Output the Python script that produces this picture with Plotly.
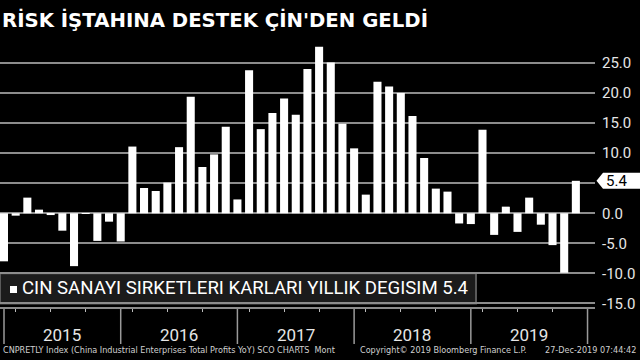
import plotly.graph_objects as go

# ---- data ----
months = [
    "Dec 2014",
    "Mar 2015", "Apr 2015", "May 2015", "Jun 2015", "Jul 2015", "Aug 2015", "Sep 2015", "Oct 2015", "Nov 2015", "Dec 2015",
    "Mar 2016", "Apr 2016", "May 2016", "Jun 2016", "Jul 2016", "Aug 2016", "Sep 2016", "Oct 2016", "Nov 2016", "Dec 2016",
    "Mar 2017", "Apr 2017", "May 2017", "Jun 2017", "Jul 2017", "Aug 2017", "Sep 2017", "Oct 2017", "Nov 2017", "Dec 2017",
    "Mar 2018", "Apr 2018", "May 2018", "Jun 2018", "Jul 2018", "Aug 2018", "Sep 2018", "Oct 2018", "Nov 2018", "Dec 2018",
    "Mar 2019", "Apr 2019", "May 2019", "Jun 2019", "Jul 2019", "Aug 2019", "Sep 2019", "Oct 2019", "Nov 2019",
]
profits_yoy = [
    -8.0,
    -0.4, 2.6, 0.6, -0.3, -2.9, -8.8, -0.1, -4.6, -1.4, -4.7,
    11.1, 4.2, 3.7, 5.1, 11.0, 19.4, 7.7, 9.8, 14.4, 2.3,
    23.8, 14.0, 16.7, 19.1, 16.4, 24.0, 27.7, 25.1, 14.9, 10.8,
    3.1, 21.9, 21.1, 20.0, 16.2, 9.2, 4.1, 3.6, -1.7, -1.8,
    13.9, -3.6, 1.1, -3.1, 2.6, -1.9, -5.3, -9.9, 5.4,
]
years = ["2015", "2016", "2017", "2018", "2019"]
y_ticks = [-15, -10, -5, 0, 5, 10, 15, 20, 25]
last_value = profits_yoy[-1]

title_text = "RİSK İŞTAHINA DESTEK ÇİN'DEN GELDİ"
legend_text = "CIN SANAYI SIRKETLERI KARLARI YILLIK DEGISIM " + f"{last_value:.1f}"
source_text = "CNPRETLY Index (China Industrial Enterprises Total Profits YoY) SCO CHARTS  Mont"
copyright_text = "Copyright© 2019 Bloomberg Finance L.P."
stamp_text = "27-Dec-2019 07:44:42"

GRID = "#8c8c8c"
TXT = "#e6e6e6"
BODY_FONT = "Liberation Sans Narrow, Roboto, Liberation Sans, sans-serif"

# ---- geometry helpers ----
W, H = 640, 360
ML, MR, MT, MB = 0, 45, 42, 53
PW = W - ML - MR
PH = H - MT - MB


def px_x(px):
    return (px - ML) / PW


def px_y(py):
    return (H - MB - py) / PH


fig = go.Figure()
fig.add_trace(go.Bar(
    x=months, y=profits_yoy,
    marker=dict(color="white", line=dict(width=0)),
    showlegend=False,
))

minor_ticks = [m for m in months if m.split()[0] in ("Mar", "Jun", "Sep")]
# the 5.0 label is hidden behind the last-value marker in the original
tick_text = ["" if abs(v - last_value) < 2.5 else f"{v:.1f}" for v in y_ticks]

fig.update_layout(
    width=W, height=H,
    margin=dict(l=ML, r=MR, t=MT, b=MB),
    paper_bgcolor="black", plot_bgcolor="black",
    bargap=0.31,
    xaxis=dict(
        type="category", range=[-0.343, 50.64],
        showgrid=False, zeroline=False,
        showline=True, linecolor=GRID, linewidth=2,
        ticks="outside", ticklen=3, tickwidth=1, tickcolor="#bbbbbb",
        tickvals=minor_ticks, showticklabels=False,
    ),
    yaxis=dict(
        side="right", range=[-15.6, 28.5],
        tickvals=y_ticks, ticktext=tick_text,
        showgrid=True, gridcolor=GRID, gridwidth=2,
        zeroline=True, zerolinecolor=GRID, zerolinewidth=2,
        ticks="", ticklabelstandoff=6,
        tickfont=dict(family=BODY_FONT, size=15, color=TXT),
    ),
    font=dict(family=BODY_FONT, color=TXT),
)

# year separators
dec_idx = [i for i, m in enumerate(months) if m.startswith("Dec")]
sep_idx = dec_idx + [len(months)]
for i in sep_idx:
    fig.add_shape(type="line", xref="x", yref="paper", x0=i, x1=i,
                  y0=px_y(309), y1=px_y(344), line=dict(color="#9a9a9a", width=1.5))
for k, yr in enumerate(years):
    mid = (sep_idx[k] + sep_idx[k + 1]) / 2
    fig.add_annotation(x=mid, xref="x", y=px_y(335), yref="paper", text=yr,
                       showarrow=False, font=dict(family=BODY_FONT, size=17, color=TXT),
                       xanchor="center", yanchor="middle")

# legend box
fig.add_shape(type="rect", xref="paper", yref="y", x0=0, x1=px_x(476), y0=-15, y1=-10,
              fillcolor="#1b1b1b", line=dict(color="#5a5a5a", width=2), layer="between")
fig.add_shape(type="rect", xref="paper", yref="paper", x0=px_x(10), x1=px_x(17),
              y0=px_y(293), y1=px_y(286), fillcolor="white", line=dict(width=0))
fig.add_annotation(x=px_x(20), xref="paper", y=-12.5, yref="y", text=legend_text,
                   showarrow=False, xanchor="left", yanchor="middle",
                   font=dict(family=BODY_FONT, size=18.6, color="white"))

# last value marker
hh = 8 / 6.0
x_tip, x_sh, x_end = px_x(596.5), px_x(603), px_x(642)
fig.add_shape(type="path", xref="paper", yref="y",
              path=(f"M {x_tip},{last_value} L {x_sh},{last_value + hh} L {x_end},{last_value + hh} "
                    f"L {x_end},{last_value - hh} L {x_sh},{last_value - hh} Z"),
              fillcolor="white", line=dict(width=0))
fig.add_annotation(x=px_x(604), xref="paper", y=last_value, yref="y", text=f"{last_value:.1f}",
                   showarrow=False, xanchor="left", yanchor="middle",
                   font=dict(family=BODY_FONT, size=15, color="black"))

# title
fig.add_annotation(x=0, xref="paper", y=px_y(20), yref="paper", text=f"<b>{title_text}</b>",
                   showarrow=False, xanchor="left", yanchor="middle",
                   font=dict(family="DejaVu Sans", size=19.7, color="white"))

# footer
foot_font = dict(family="DejaVu Sans Condensed, DejaVu Sans", size=9, color="#d0d0d0")
fig.add_annotation(x=px_x(1), xref="paper", y=px_y(350), yref="paper", text=source_text,
                   showarrow=False, xanchor="left", yanchor="middle", font=foot_font)
fig.add_annotation(x=px_x(358), xref="paper", y=px_y(350), yref="paper", text=copyright_text,
                   showarrow=False, xanchor="left", yanchor="middle", font=foot_font)
fig.add_annotation(x=px_x(638), xref="paper", y=px_y(350), yref="paper", text=stamp_text,
                   showarrow=False, xanchor="right", yanchor="middle", font=foot_font)

fig.write_html("out.html", config={"displayModeBar": False},
               post_script="document.body.style.margin='0';document.body.style.overflow='hidden';")
